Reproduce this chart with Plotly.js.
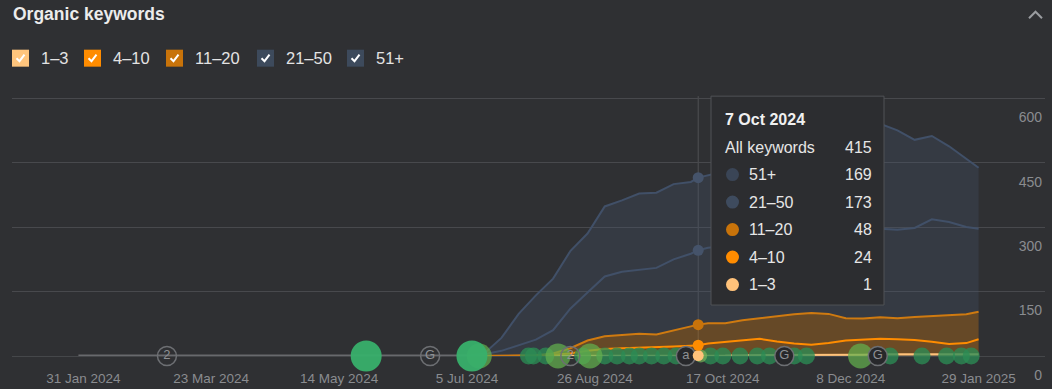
<!DOCTYPE html>
<html>
<head>
<meta charset="utf-8">
<script src="https://cdn.plot.ly/plotly-3.0.1.min.js"></script>
<style>
  html, body { margin: 0; padding: 0; background: #303134; }
  #chart { width: 1052px; height: 389px; }
</style>
</head>
<body>
<div id="chart"></div>
<script>
// ---------- DATA ----------
const seriesNames = ['1–3', '4–10', '11–20', '21–50', '51+'];
const dates = ['2024-07-05','2024-07-12','2024-07-19','2024-07-26','2024-08-02','2024-08-09','2024-08-16','2024-08-23',
  '2024-08-30','2024-09-06','2024-09-13','2024-09-20','2024-09-27','2024-10-04','2024-10-07','2024-10-11',
  '2024-10-18','2024-10-25','2024-11-01','2024-11-08','2024-11-15','2024-11-22','2024-11-29','2024-12-06',
  '2024-12-13','2024-12-20','2024-12-27','2025-01-03','2025-01-10','2025-01-17','2025-01-24','2025-01-29'];
const k1_3   = [0,0,0,0,0,0,0,1,1,1,1,1,1,1,1,1,1,2,2,2,2,2,3,3,3,4,4,5,5,5,5,4];
const k4_10  = [0,0,0,0,1,3,6,11,15,17,18,20,21,23,24,28,32,34,38,32,27,24,27,33,35,36,35,32,28,23,25,35];
const k11_20 = [0,0,0,1,1,3,12,24,30,31,33,29,38,46,48,47,43,47,48,58,68,74,68,52,49,50,49,54,60,67,67,64];
const k21_50 = [0,4,12,24,36,54,92,112,139,147,148,155,165,168,173,176,180,179,178,180,179,182,188,202,205,206,206,207,225,217,203,193];
const k51    = [0,2,30,73,103,120,134,137,163,166,178,175,175,167,169,168,174,183,192,198,209,213,219,225,233,244,231,205,194,176,158,142];

const historyDates = ['2024-01-29', '2024-07-05'];
const historyValues = [0, 0];

const xTickVals = ['2024-01-31','2024-03-23','2024-05-14','2024-07-05','2024-08-26','2024-10-17','2024-12-08','2025-01-29'];
const xTickText = ['31 Jan 2024','23 Mar 2024','14 May 2024','5 Jul 2024','26 Aug 2024','17 Oct 2024','8 Dec 2024','29 Jan 2025'];
const yTickVals = [0, 150, 300, 450, 600];

const hoverDate = '2024-10-07';
const hoverLabel = '7 Oct 2024';

// annotation events along the baseline
const bigEventDates = ['2024-05-25', '2024-07-07'];
const lightEventDates = ['2024-07-10', '2024-08-11', '2024-08-24', '2024-12-12'];
const smallLightEventDates = ['2024-10-08'];
const darkEventDates = ['2024-07-30','2024-08-01','2024-08-06','2024-08-21','2024-08-30','2024-09-04','2024-09-09',
  '2024-09-13','2024-09-18','2024-09-23','2024-09-28','2024-10-12','2024-10-17','2024-10-24','2024-10-31',
  '2024-11-05','2024-11-15','2024-11-20','2024-12-24','2025-01-06','2025-01-16','2025-01-22','2025-01-26'];
const iconDates = ['2024-03-05', '2024-06-20', '2024-08-16', '2024-10-02', '2024-11-11', '2024-12-19'];
const iconText  = ['2', 'G', '2', 'a', 'G', 'G'];
const iconFilled = [false, false, false, true, true, true];

// ---------- STYLE ----------
const BG = '#2f3033';
const FONT = '"Liberation Sans", Arial, Helvetica, sans-serif';
const colors = {
  '1–3':   {line: '#ffc27a', fill: 'rgba(255,194,122,0.40)', dot: '#ffc27a'},
  '4–10':  {line: '#ff8c00', fill: 'rgba(220,125,15,0.36)',  dot: '#ff8c00'},
  '11–20': {line: '#cf7a10', fill: 'rgba(200,120,20,0.36)',  dot: '#c8730a'},
  '21–50': {line: '#415068', fill: 'rgba(70,85,110,0.27)',   dot: '#3e4b5e'},
  '51+':   {line: '#415068', fill: 'rgba(70,85,110,0.27)',   dot: '#3a4556'}
};
const valuesByName = {'1–3': k1_3, '4–10': k4_10, '11–20': k11_20, '21–50': k21_50, '51+': k51};

// plot area in pixels (y range 0..605 so the 600 grid line sits at y=98)
const YMAX = 605;
const L = 12, R = 1045, B = 356, T = 356 - 258 * YMAX / 600;
const X = px => (px - L) / (R - L);
const Y = py => (B - py) / (B - T);

const traces = [];

// history (no-data) line
traces.push({
  type: 'scatter', mode: 'lines', x: historyDates, y: historyValues,
  line: {color: '#68696d', width: 3}, hoverinfo: 'skip', showlegend: false, cliponaxis: false
});

// stacked areas
seriesNames.forEach(name => {
  traces.push({
    type: 'scatter', mode: 'lines', name: name, x: dates, y: valuesByName[name],
    stackgroup: 'one', fillcolor: colors[name].fill,
    line: {color: colors[name].line, width: 2}, showlegend: false
  });
});

// hover markers (cumulative values at hover date)
const hi = dates.indexOf(hoverDate);
let cum = 0;
const hoverY = [], hoverC = [];
seriesNames.forEach(name => {
  cum += valuesByName[name][hi];
  hoverY.push(cum);
  hoverC.push(colors[name].dot === '#3a4556' || colors[name].dot === '#3e4b5e' ? '#45536a' : colors[name].dot);
});
const total = cum;

// events
traces.push({
  type: 'scatter', mode: 'markers', x: darkEventDates, y: darkEventDates.map(() => 0),
  marker: {size: 17, color: 'rgba(44,140,84,0.78)', line: {width: 0}}, cliponaxis: false, showlegend: false
});
traces.push({
  type: 'scatter', mode: 'markers', x: lightEventDates, y: lightEventDates.map(() => 0),
  marker: {size: 25, color: 'rgba(98,176,78,0.72)', line: {width: 0}}, cliponaxis: false, showlegend: false
});
traces.push({
  type: 'scatter', mode: 'markers', x: smallLightEventDates, y: smallLightEventDates.map(() => 0),
  marker: {size: 13, color: 'rgba(120,180,90,0.7)', line: {width: 0}}, cliponaxis: false, showlegend: false
});
traces.push({
  type: 'scatter', mode: 'markers', x: bigEventDates, y: bigEventDates.map(() => 0),
  marker: {size: 31, color: 'rgba(56,176,108,0.95)', line: {width: 0}}, cliponaxis: false, showlegend: false
});
traces.push({
  type: 'scatter', mode: 'markers+text', x: iconDates, y: iconDates.map(() => 0),
  text: iconText, textposition: 'middle center',
  textfont: {family: FONT, size: 13, color: '#8e9094'},
  marker: {size: 19, color: iconFilled.map(f => f ? '#27282b' : 'rgba(0,0,0,0)'),
           line: {width: 1.5, color: '#6d6f73'}},
  cliponaxis: false, showlegend: false
});

// hover dots
traces.push({
  type: 'scatter', mode: 'markers', x: hoverY.map(() => hoverDate), y: hoverY,
  marker: {size: 11, color: hoverC, line: {width: 0}}, cliponaxis: false, showlegend: false
});

// ---------- LAYOUT ----------
const shapes = [];
const annotations = [];

// hover line
shapes.push({type: 'line', xref: 'x', yref: 'paper', x0: hoverDate, x1: hoverDate, y0: 0, y1: Y(96),
  line: {color: 'rgba(255,255,255,0.16)', width: 1}, layer: 'below'});

// title
annotations.push({xref: 'paper', yref: 'paper', x: X(11), y: Y(14), xanchor: 'left', yanchor: 'middle',
  text: '<b>Organic keywords</b>', showarrow: false, font: {family: FONT, size: 17.5, color: '#ececec'}});
// chevron
shapes.push({type: 'path', xref: 'paper', yref: 'paper',
  path: `M ${X(1029)},${Y(18)} L ${X(1035.5)},${Y(11.5)} L ${X(1042)},${Y(18)}`,
  line: {color: '#9a9ca0', width: 2}});

// legend checkboxes
const legendBoxX = [12, 84, 166, 257, 347];
const legendColors = ['#ffc57d', '#ff8c00', '#c8730a', '#3d4a5c', '#3d4a5c'];
seriesNames.forEach((name, i) => {
  const bx = legendBoxX[i];
  shapes.push({type: 'rect', xref: 'paper', yref: 'paper', x0: X(bx), x1: X(bx + 17), y0: Y(66.5), y1: Y(49.5),
    fillcolor: legendColors[i], line: {width: 0}});
  shapes.push({type: 'path', xref: 'paper', yref: 'paper',
    path: `M ${X(bx + 4.5)},${Y(58)} L ${X(bx + 7.5)},${Y(61)} L ${X(bx + 12.5)},${Y(54.5)}`,
    line: {color: '#ffffff', width: 2}});
  annotations.push({xref: 'paper', yref: 'paper', x: X(bx + 27), y: Y(58), xanchor: 'left', yanchor: 'middle',
    text: name, showarrow: false, font: {family: FONT, size: 16.5, color: '#e3e3e3'}});
});

// tooltip
shapes.push({type: 'rect', xref: 'paper', yref: 'paper', x0: X(711), x1: X(884), y0: Y(305), y1: Y(96),
  fillcolor: '#2c2d30', line: {color: '#505256', width: 1}});
annotations.push({xref: 'paper', yref: 'paper', x: X(723), y: Y(119), xanchor: 'left', yanchor: 'middle',
  text: '<b>' + hoverLabel + '</b>', showarrow: false, font: {family: FONT, size: 16, color: '#f0f0f0'}});
annotations.push({xref: 'paper', yref: 'paper', x: X(723), y: Y(147.5), xanchor: 'left', yanchor: 'middle',
  text: 'All keywords', showarrow: false, font: {family: FONT, size: 16, color: '#e6e6e6'}});
annotations.push({xref: 'paper', yref: 'paper', x: X(874), y: Y(147.5), xanchor: 'right', yanchor: 'middle',
  text: String(total), showarrow: false, font: {family: FONT, size: 16, color: '#e6e6e6'}});
const tipOrder = ['51+', '21–50', '11–20', '4–10', '1–3'];
const tipRowY = [174.5, 202, 229.5, 257, 284.5];
tipOrder.forEach((name, i) => {
  const ry = tipRowY[i];
  shapes.push({type: 'circle', xref: 'paper', yref: 'paper', x0: X(726), x1: X(739), y0: Y(ry + 6.5), y1: Y(ry - 6.5),
    fillcolor: colors[name].dot, line: {width: 0}});
  annotations.push({xref: 'paper', yref: 'paper', x: X(747), y: Y(ry), xanchor: 'left', yanchor: 'middle',
    text: name, showarrow: false, font: {family: FONT, size: 16, color: '#e6e6e6'}});
  annotations.push({xref: 'paper', yref: 'paper', x: X(874), y: Y(ry), xanchor: 'right', yanchor: 'middle',
    text: String(valuesByName[name][hi]), showarrow: false, font: {family: FONT, size: 16, color: '#e6e6e6'}});
});

const layout = {
  width: 1052, height: 389,
  paper_bgcolor: BG, plot_bgcolor: BG,
  margin: {l: L, r: 1052 - R, t: T, b: 389 - B, pad: 0},
  showlegend: false,
  hovermode: false,
  font: {family: FONT},
  xaxis: {
    type: 'date', range: ['2024-01-02', '2025-02-25'],
    tickvals: xTickVals, ticktext: xTickText,
    showgrid: false, zeroline: false, showline: false, ticks: '',
    tickfont: {family: FONT, size: 13.5, color: '#8a8c90'},
    ticklabelstandoff: 12
  },
  yaxis: {
    range: [0, YMAX], tickvals: yTickVals, side: 'right',
    ticklabelposition: 'inside', ticklabeloverflow: 'allow',
    ticklabelshift: 19, ticklabelstandoff: 0,
    showgrid: true, gridcolor: '#48494d', gridwidth: 1,
    zeroline: true, zerolinecolor: '#45474a', zerolinewidth: 1,
    showline: false, ticks: '',
    tickfont: {family: FONT, size: 14, color: '#8a8c90'}
  },
  shapes: shapes,
  annotations: annotations
};

Plotly.newPlot('chart', traces, layout, {displayModeBar: false, staticPlot: true});
</script>
</body>
</html>
